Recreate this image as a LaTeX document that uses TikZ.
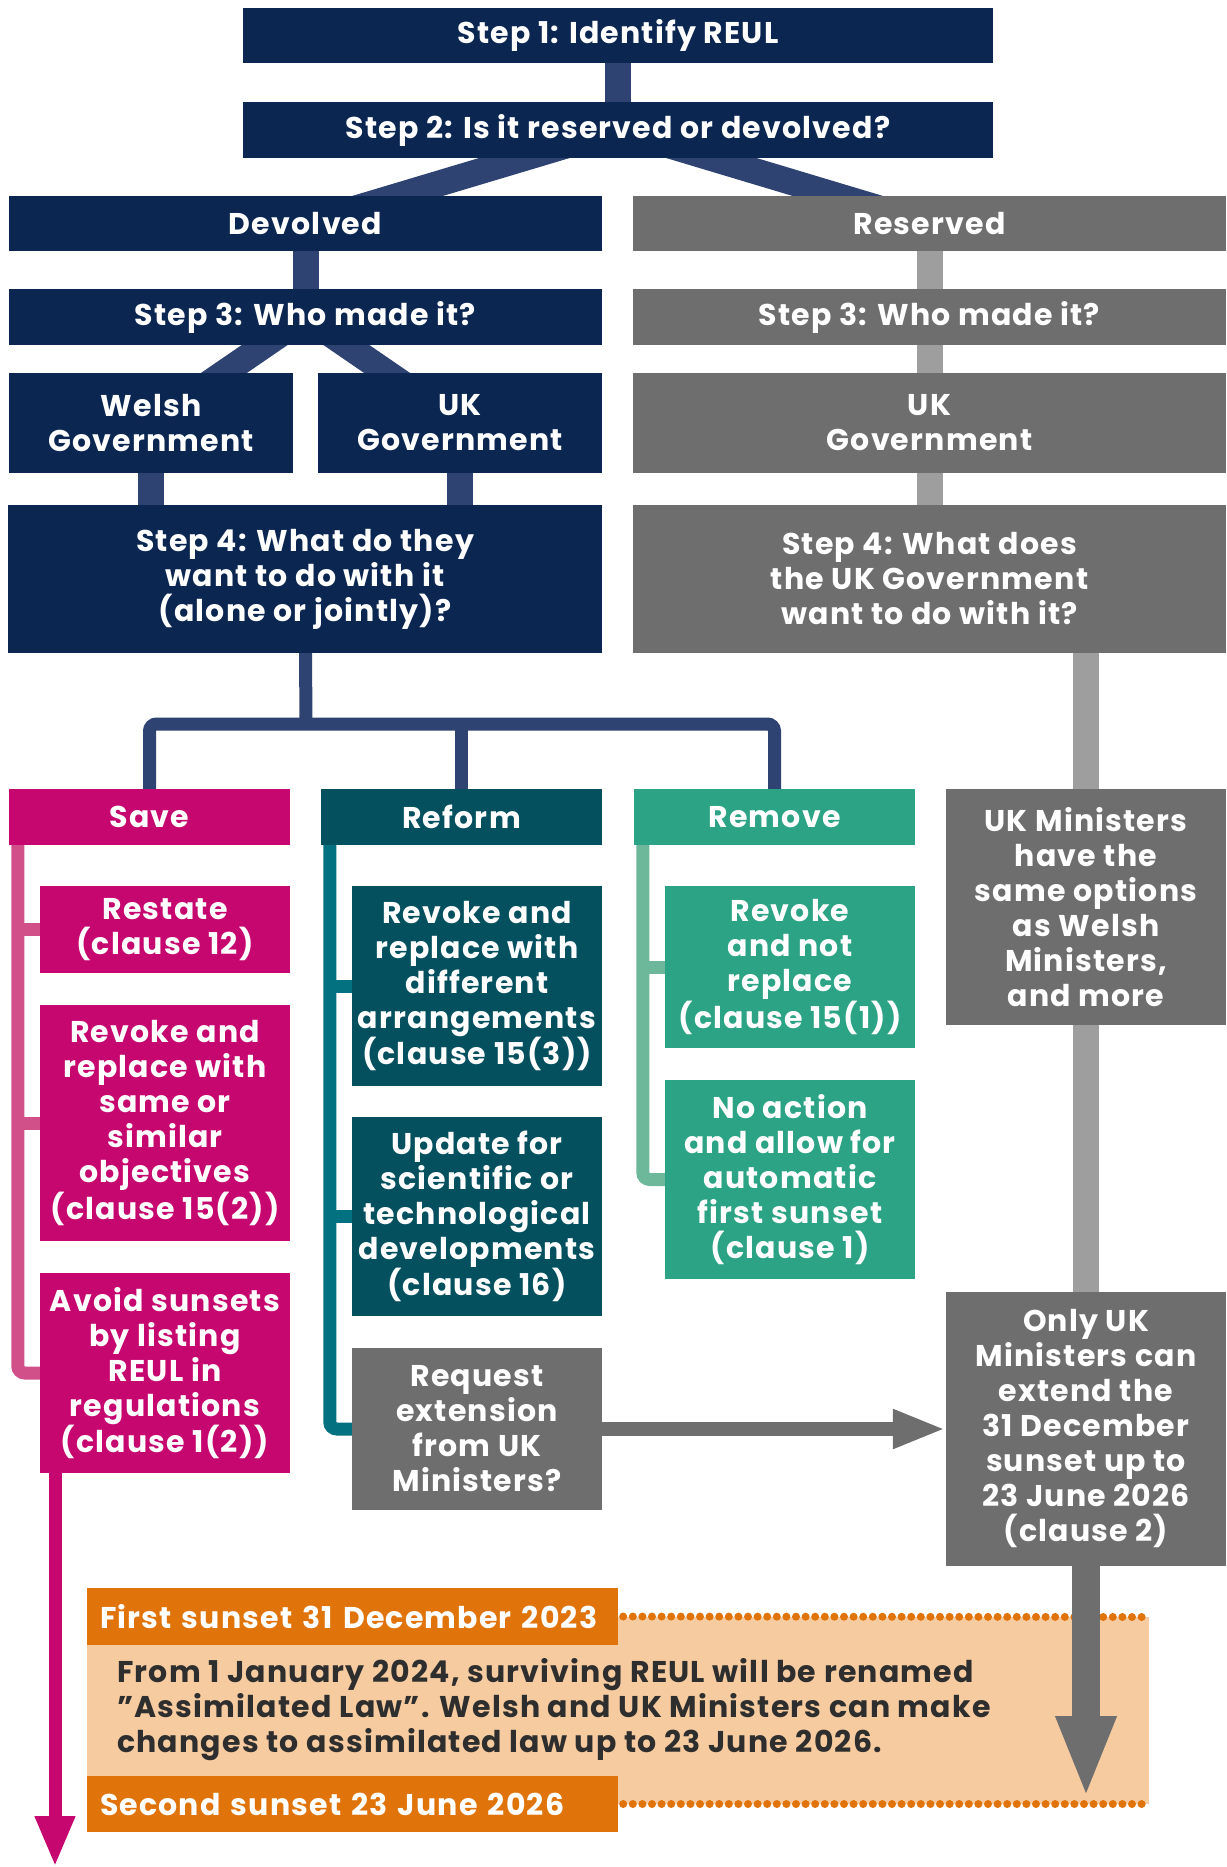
\documentclass[tikz,border=0pt]{standalone}
\usepackage{fontspec}
\setmainfont{Poppins}[LetterSpace=4]
\usetikzlibrary{arrows.meta}

\definecolor{navy}{HTML}{0B2651}
\definecolor{navylink}{HTML}{2E4372}
\definecolor{darkgrey}{HTML}{6E6E6E}
\definecolor{lightgrey}{HTML}{9E9E9E}
\definecolor{magenta}{HTML}{C6076F}
\definecolor{pinkrail}{HTML}{D2508A}
\definecolor{petrol}{HTML}{04505F}
\definecolor{petrolrail}{HTML}{03717F}
\definecolor{jade}{HTML}{2BA384}
\definecolor{jaderail}{HTML}{6DB79A}
\definecolor{sunset}{HTML}{E0740B}
\definecolor{peach}{HTML}{F6CBA0}
\definecolor{bodytext}{HTML}{2E2E2E}

\pgfdeclarelayer{background}
\pgfsetlayers{background,main}

\tikzset{
  box/.style={rectangle, inner sep=0pt, align=center, text=white,
    font=\bfseries\fontsize{30}{35}\selectfont},
  navybox/.style={box, fill=navy},
  greybox/.style={box, fill=darkgrey},
  savebox/.style={box, fill=magenta},
  reformbox/.style={box, fill=petrol},
  removebox/.style={box, fill=jade},
  sunsetbox/.style={box, fill=sunset, align=left, inner xsep=13pt, text width=505},
  navylink/.style={draw=navylink, line width=26},
  greylink/.style={draw=lightgrey, line width=26},
  bus/.style={draw=navylink, line width=13, rounded corners=7},
  saverail/.style={draw=pinkrail, line width=13, rounded corners=7},
  reformrail/.style={draw=petrolrail, line width=13, rounded corners=7},
  removerail/.style={draw=jaderail, line width=13, rounded corners=7},
  sunsetdots/.style={draw=sunset, line width=8, line cap=round, dash pattern=on 0pt off 9.6pt},
}

\begin{document}
\begin{tikzpicture}[x=1pt, y=-1pt]
    \useasboundingbox (0, 0) rectangle (1226, 1867);

    % Nodes
    \node[navybox, minimum width=750, minimum height=55] at (618, 35.5) (step1) {Step 1: Identify REUL};
    \node[navybox, minimum width=750, minimum height=56] at (618, 130) (step2) {Step 2: Is it reserved or devolved?};

    \node[navybox, minimum width=593, minimum height=55] at (305.5, 223.5) (devolved) {Devolved};
    \node[greybox, minimum width=593, minimum height=55] at (929.5, 223.5) (reserved) {Reserved};
    \node[navybox, minimum width=593, minimum height=56] at (305.5, 317) (dstep3) {Step 3: Who made it?};
    \node[greybox, minimum width=593, minimum height=56] at (929.5, 317) (rstep3) {Step 3: Who made it?};

    \node[navybox, minimum width=284, minimum height=100] at (151, 423) (welsh) {Welsh\\Government};
    \node[navybox, minimum width=284, minimum height=100] at (460, 423) (dukgov) {UK\\Government};
    \node[greybox, minimum width=593, minimum height=100] at (929.5, 423) (rukgov) {UK\\Government};

    \node[navybox, minimum width=594, minimum height=148] at (305, 579) (dstep4) {Step 4: What do they\\want to do with it\\(alone or jointly)?};
    \node[greybox, minimum width=593, minimum height=148] at (929.5, 579) (rstep4) {Step 4: What does\\the UK Government\\want to do with it?};

    \node[savebox, minimum width=281, minimum height=56] at (149.5, 817) (save) {Save};
    \node[reformbox, minimum width=281, minimum height=56] at (461.5, 817) (reform) {Reform};
    \node[removebox, minimum width=281, minimum height=56] at (774.5, 817) (remove) {Remove};
    \node[greybox, minimum width=280, minimum height=236] at (1086, 907) (ukmin) {UK Ministers\\have the\\same options\\as Welsh\\Ministers,\\and more};

    \node[savebox, minimum width=250, minimum height=87] at (165, 929.5) (restate) {Restate\\(clause 12)};
    \node[savebox, minimum width=250, minimum height=236] at (165, 1123) (revsame) {Revoke and\\replace with\\same or\\similar\\objectives\\(clause 15(2))};
    \node[savebox, minimum width=250, minimum height=200] at (165, 1373) (avoid) {Avoid sunsets\\by listing\\REUL in\\regulations\\(clause 1(2))};

    \node[reformbox, minimum width=250, minimum height=200] at (477, 986) (revdiff) {Revoke and\\replace with\\different\\arrangements\\(clause 15(3))};
    \node[reformbox, minimum width=250, minimum height=199] at (477, 1216.5) (update) {Update for\\scientific or\\technological\\developments\\(clause 16)};
    \node[greybox, minimum width=250, minimum height=162] at (477, 1429) (request) {Request\\extension\\from UK\\Ministers?};

    \node[removebox, minimum width=250, minimum height=162] at (790, 967) (revnot) {Revoke\\and not\\replace\\(clause 15(1))};
    \node[removebox, minimum width=250, minimum height=199] at (790, 1179.5) (noaction) {No action\\and allow for\\automatic\\first sunset\\(clause 1)};

    \node[greybox, minimum width=280, minimum height=274] at (1086, 1429) (onlyuk) {Only UK\\Ministers can\\extend the\\31 December\\sunset up to\\23 June 2026\\(clause 2)};

    \node[sunsetbox, minimum height=57] at (352.5, 1616.5) (first) {First sunset 31 December 2023};
    \node[sunsetbox, minimum height=56] at (352.5, 1804) (second) {Second sunset 23 June 2026};
    \node[anchor=west, align=left, inner sep=0pt, text=bodytext, font=\bfseries\fontsize{30}{35}\selectfont] at (117, 1710) (note)
      {From 1 January 2024, surviving REUL will be renamed\\"Assimilated Law". Welsh and UK Ministers can make\\changes to assimilated law up to 23 June 2026.};

    \coordinate (bus) at (306, 724);
    \coordinate (peachend) at (1149, 1617);
    \coordinate (greyend) at (1086, 1798);
    \coordinate (pinkend) at (55, 1867);

    % Connectors, behind the boxes
    \begin{pgfonlayer}{background}
      \fill[peach] (87, 1617) rectangle (1149, 1804);

      \draw[navylink] (step1.center) -- (step2.center);
      \draw[navylink] (step2.center) -- (devolved.center);
      \draw[navylink] (step2.center) -- (reserved.center);
      \draw[navylink] (devolved.center) -- (dstep3.center);
      \draw[navylink] (dstep3.center) -- (welsh.center);
      \draw[navylink] (dstep3.center) -- (dukgov.center);
      \draw[navylink] (welsh.center) -- (welsh |- dstep4);
      \draw[navylink] (dukgov.center) -- (dukgov |- dstep4);

      \draw[greylink] (reserved.center) -- (rstep3.center);
      \draw[greylink] (rstep3.center) -- (rukgov.center);
      \draw[greylink] (rukgov.center) -- (rstep4.center);
      \draw[greylink] (ukmin |- rstep4) -- (onlyuk.center);

      \draw[bus] (dstep4.center) -- (bus);
      \draw[bus] (save.center) -- (save |- bus) -- (remove |- bus) -- (remove.center);
      \draw[bus] (reform |- bus) -- (reform.center);

      \draw[saverail] (save.south west) ++(9, 0) |- (avoid.west);
      \draw[saverail] (restate.west) -- ++(-22, 0);
      \draw[saverail] (revsame.west) -- ++(-22, 0);

      \draw[reformrail] (reform.south west) ++(9, 0) |- (request.west);
      \draw[reformrail] (revdiff.west) -- ++(-22, 0);
      \draw[reformrail] (update.west) -- ++(-22, 0);

      \draw[removerail] (remove.south west) ++(9, 0) |- (noaction.west);
      \draw[removerail] (revnot.west) -- ++(-22, 0);
    \end{pgfonlayer}

    \draw[sunsetdots] (first.east) ++(5, 0) -- (peachend);
    \draw[sunsetdots] (second.east) ++(5, 0) -- (second.east -| peachend);

    \draw[draw=darkgrey, line width=14, -{Triangle[length=53, width=36]}] (request) -- (onlyuk.west);
    \draw[draw=darkgrey, fill=darkgrey, line width=28, -{Triangle[length=82, width=55]}] (onlyuk.south) -- (greyend);
    \draw[draw=magenta, line width=13, -{Triangle[length=51, width=37]}] (avoid.south -| pinkend) -- (pinkend);

\end{tikzpicture}
\end{document}
